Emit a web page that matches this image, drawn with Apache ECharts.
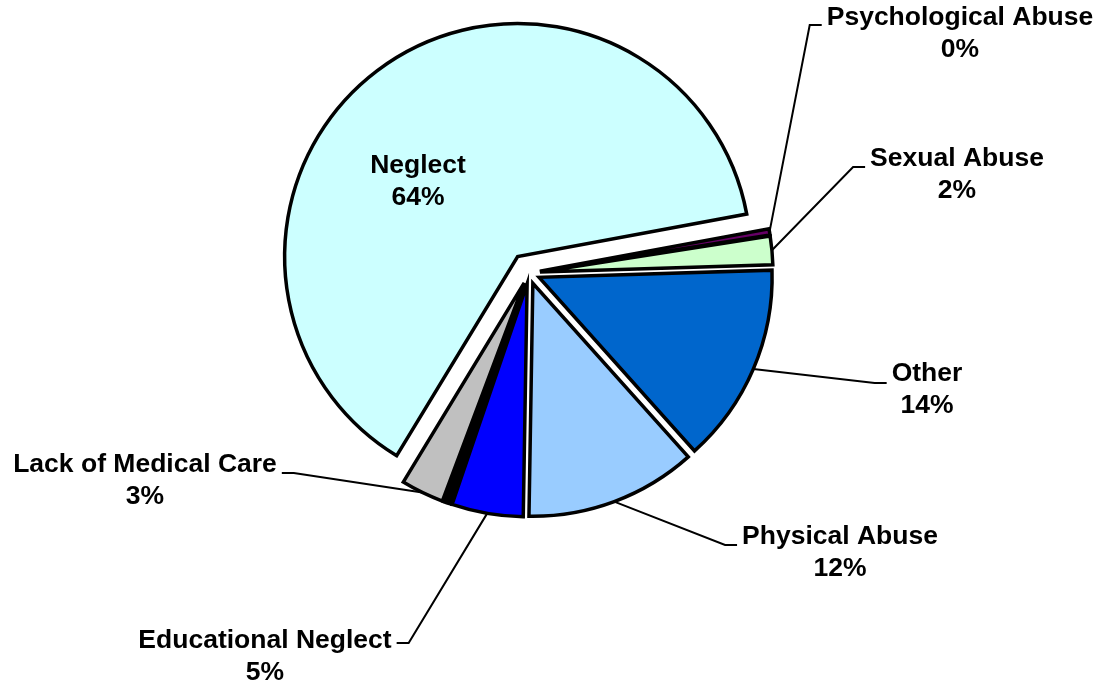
<!DOCTYPE html>
<html>
<head>
<meta charset="utf-8">
<script src="https://cdn.jsdelivr.net/npm/echarts@6/dist/echarts.min.js"></script>
<style>
  html, body { margin: 0; padding: 0; background: #ffffff; }
  #chart { width: 1103px; height: 684px; }
</style>
</head>
<body>
<div id="chart"></div>
<script>
// Case categories, in clockwise order starting from the upper right.
// The unnamed sliver between Educational Neglect and Lack of Medical Care carries no label.
const categories = ['Psychological Abuse', 'Sexual Abuse', 'Other', 'Physical Abuse',
                    'Educational Neglect', '', 'Lack of Medical Care', 'Neglect'];
// Share of cases, in percent.
const percentages = [0, 2, 14, 12, 5, 0.5, 3, 64];

// ---- styling and layout ----
const palette = ['#660066', '#CCFFCC', '#0066CC', '#99CCFF', '#0000FF', '#000000', '#C0C0C0', '#CCFFFF'];
const pieCenter = [529, 273];
const pieRadius = 233;
const startAngle = 10.5;
const minAngle = 1.6;
const explodeBy = [11, 11, 11, 11, 11, 11, 11, 20];

// Label blocks: centre of the text block, offset of the leader's horizontal tail, side of the leader
const labelSpots = {
  'Psychological Abuse': { x: 960, y: 34, dy: -9, side: 'right' },
  'Sexual Abuse':        { x: 957, y: 175, dy: -8, side: 'right' },
  'Other':               { x: 927, y: 390, dy: -7, side: 'right' },
  'Physical Abuse':      { x: 840, y: 553, dy: -8, side: 'right' },
  'Educational Neglect': { x: 265, y: 657, dy: -14, side: 'left' },
  'Lack of Medical Care':{ x: 145, y: 481, dy: -8, side: 'left' },
  'Neglect':             { x: 418, y: 182, inside: true }
};

// Mid angle of every sector, following the pie layout (including minAngle)
const total = percentages.reduce((a, b) => a + b, 0);
const firstUnit = 360 / total;
const isSmall = percentages.map(v => v * firstUnit < minAngle);
let restAngle = 360, bigSum = 0;
percentages.forEach((v, i) => { if (isSmall[i]) restAngle -= minAngle; else bigSum += v; });
const unit = restAngle / bigSum;
let cursor = startAngle;
const midAngles = percentages.map((v, i) => {
  const span = isSmall[i] ? minAngle : v * unit;
  const mid = cursor - span / 2;
  cursor -= span;
  return mid * Math.PI / 180;
});

function placeLabel(params) {
  const spot = labelSpots[categories[params.dataIndex]];
  if (!spot) return {};
  const out = { x: spot.x, y: spot.y, align: 'center', verticalAlign: 'middle' };
  if (!spot.inside && params.labelLinePoints) {
    const w = params.labelRect.width;
    const edge = params.labelLinePoints[0];
    const yy = spot.y + spot.dy;
    const endX = spot.side === 'right' ? spot.x - w / 2 - 5 : spot.x + w / 2 + 5;
    const elbowX = spot.side === 'right' ? endX - 12 : endX + 12;
    out.labelLinePoints = [edge, [elbowX, yy], [endX, yy]];
  }
  return out;
}

// One pie per sector so each can be pulled out along its own mid angle
const series = categories.map((name, k) => {
  const d = explodeBy[k];
  const m = midAngles[k];
  return {
    type: 'pie',
    center: [pieCenter[0] + d * Math.cos(m), pieCenter[1] - d * Math.sin(m)],
    radius: pieRadius,
    startAngle: startAngle,
    minAngle: minAngle,
    clockwise: true,
    silent: true,
    animation: false,
    avoidLabelOverlap: false,
    emphasis: { disabled: true },
    labelLayout: placeLabel,
    data: categories.map((n, i) => {
      const own = i === k;
      const hasLabel = own && n !== '';
      const inside = hasLabel && labelSpots[n] && labelSpots[n].inside;
      return {
        name: n,
        value: percentages[i],
        itemStyle: own
          ? { color: palette[i], borderColor: '#000000', borderWidth: 3.5, borderJoin: 'miter' }
          : { color: 'rgba(0,0,0,0)', borderWidth: 0 },
        label: {
          show: hasLabel,
          position: inside ? 'inside' : 'outside',
          formatter: '{b}\n{c}%',
          fontFamily: 'Liberation Sans, Arial, sans-serif',
          fontWeight: 'bold',
          fontSize: 26.5,
          lineHeight: 32,
          color: '#000000',
          align: 'center'
        },
        labelLine: {
          show: hasLabel && !inside,
          smooth: false,
          lineStyle: { color: '#000000', width: 2 }
        }
      };
    })
  };
});

const chart = echarts.init(document.getElementById('chart'), null, { renderer: 'canvas' });
chart.setOption({
  backgroundColor: '#ffffff',
  animation: false,
  tooltip: { show: false },
  series: series
});
</script>
</body>
</html>
